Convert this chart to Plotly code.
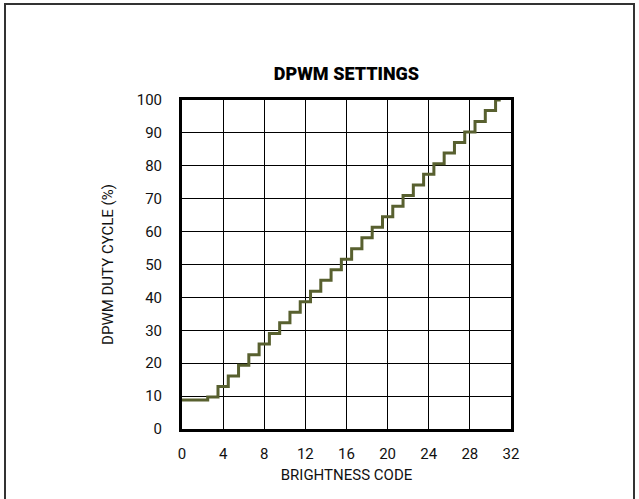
import plotly.graph_objects as go

brightness_code = list(range(32))
duty_cycle = [8.8, 8.8, 8.8, 9.7, 12.9, 16.1, 19.4, 22.6, 25.8, 29.0, 32.3,
              35.5, 38.7, 41.9, 45.2, 48.4, 51.6, 54.8, 58.1, 61.3, 64.5,
              67.7, 71.0, 74.2, 77.4, 80.6, 83.9, 87.1, 90.3, 93.5, 96.8, 100.0]
x_ticks = [0, 4, 8, 12, 16, 20, 24, 28, 32]
y_ticks = [0, 10, 20, 30, 40, 50, 60, 70, 80, 90, 100]

FONT = "Roboto, Liberation Sans, sans-serif"

fig = go.Figure()
fig.add_trace(go.Scatter(
    x=brightness_code, y=duty_cycle, mode="lines",
    line=dict(shape="hvh", color="#58602f", width=3),
    showlegend=False, hoverinfo="skip", cliponaxis=False,
))

fig.update_layout(
    width=639, height=499,
    margin=dict(l=182, r=128, t=100, b=70),
    paper_bgcolor="white", plot_bgcolor="white",
    font=dict(family=FONT, size=15, color="#111111"),
    title=dict(text="DPWM SETTINGS", x=(182 + 511) / 2 / 639, xanchor="center",
               y=1 - 74 / 499, yanchor="middle",
               font=dict(family="Roboto", size=18, weight=900, color="#000000")),
    xaxis=dict(range=[0, 32], tickvals=x_ticks, ticktext=[str(v) for v in x_ticks],
               showgrid=True, gridcolor="#000000", gridwidth=1,
               showline=True, linecolor="#000000", linewidth=3, mirror=True,
               ticks="", ticklen=0, zeroline=False, ticklabelstandoff=9,
               title=dict(text="BRIGHTNESS CODE", standoff=8,
                          font=dict(family=FONT, size=15))),
    yaxis=dict(range=[0, 100], tickvals=y_ticks, ticktext=[str(v) for v in y_ticks],
               showgrid=True, gridcolor="#000000", gridwidth=1,
               showline=True, linecolor="#000000", linewidth=3, mirror=True,
               ticks="", ticklen=0, zeroline=False, ticklabelstandoff=14,
               title=dict(text="DPWM DUTY CYCLE (%)", standoff=20,
                          font=dict(family=FONT, size=15))),
)

# outer frame
pw = 511 - 182
ph = 429 - 100
fig.add_shape(type="rect", xref="paper", yref="paper",
              x0=(5 - 182) / pw, x1=(634 - 182) / pw,
              y0=(429 - 520) / ph, y1=(429 - 4) / ph,
              line=dict(color="#333333", width=2), fillcolor="rgba(0,0,0,0)",
              layer="below")

fig.write_html("out.html", config={"displayModeBar": False},
               post_script="document.body.style.margin='0';")
